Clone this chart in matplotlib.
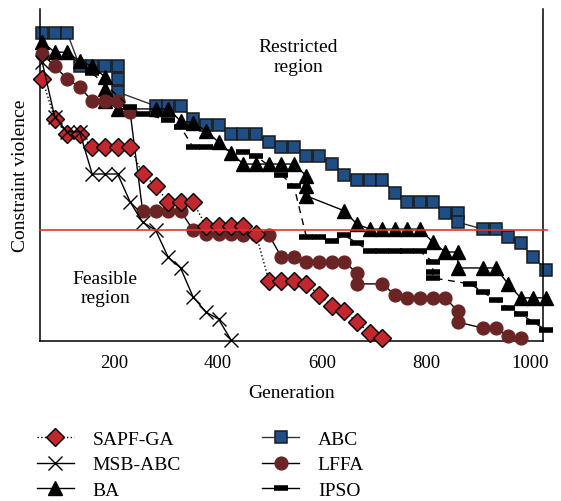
import matplotlib
matplotlib.use("Agg")
import matplotlib.pyplot as plt
from matplotlib.lines import Line2D

plt.rcParams["font.family"] = ["Liberation Serif", "DejaVu Serif"]

# generation of each sample, violation in arbitrary units (0..100)
ABC_GEN = [62, 86, 110, 134, 158, 183, 207, 207, 207, 280, 304, 328, 352, 377,
           401, 425, 449, 473, 498, 522, 546, 570, 595, 619, 643, 667, 692,
           716, 740, 764, 788, 813, 837, 861, 861, 909, 934, 958, 982, 1006, 1031]
ABC_VAL = [92.8, 92.8, 92.8, 82.8, 82.8, 82.8, 82.8, 78.9, 75.0, 70.8, 70.8,
           70.8, 66.9, 65.1, 65.1, 62.3, 62.3, 62.3, 59.9, 58.4, 58.4, 55.7,
           55.7, 53.3, 50.0, 48.5, 48.5, 48.5, 44.6, 41.9, 41.9, 41.9, 38.6,
           38.6, 35.8, 33.7, 33.7, 31.3, 29.5, 25.3, 21.4]

BA_GEN = [62, 86, 110, 134, 158, 183, 183, 183, 207, 280, 304, 328, 352, 377,
          401, 425, 449, 473, 498, 522, 546, 570, 570, 570, 643, 667, 692, 716,
          740, 764, 788, 813, 837, 861, 861, 909, 934, 958, 982, 1006, 1031]
BA_VAL = [90.1, 87.0, 87.0, 84.3, 82.8, 79.5, 75.9, 72.3, 69.9, 69.9, 69.9,
          66.3, 65.7, 63.3, 59.9, 56.6, 53.3, 53.3, 53.3, 53.3, 53.3, 49.7,
          46.7, 43.7, 39.2, 35.2, 33.7, 33.7, 33.7, 33.7, 33.7, 29.8, 26.8,
          26.8, 22.0, 22.0, 22.0, 17.2, 13.0, 13.0, 13.0]

LFFA_GEN = [62, 86, 110, 134, 158, 183, 207, 231, 255, 280, 304, 328, 352,
            377, 401, 425, 449, 473, 498, 522, 546, 570, 595, 619, 643, 667,
            667, 716, 740, 764, 788, 813, 837, 861, 861, 909, 934, 958, 982]
LFFA_VAL = [86.4, 82.8, 78.9, 76.5, 72.3, 72.3, 72.3, 69.0, 39.2, 39.2, 39.2,
            39.2, 33.4, 32.2, 32.2, 32.2, 31.9, 31.9, 31.9, 25.3, 25.3, 23.8,
            23.8, 23.8, 23.8, 20.5, 17.2, 17.2, 13.9, 13.0, 13.0, 13.0, 13.0,
            9.0, 5.7, 3.9, 3.9, 1.5, 0.9]

IPSO_GEN = [158, 231, 255, 304, 328, 352, 377, 449, 473, 522, 546, 570, 595,
            619, 643, 667, 692, 716, 740, 764, 788, 813, 813, 813, 885, 909,
            934, 958, 982, 1006, 1031]
IPSO_VAL = [80.7, 70.5, 68.4, 66.6, 64.5, 58.4, 58.4, 56.9, 55.7, 50.0, 46.7,
            31.3, 31.3, 30.1, 31.9, 29.5, 27.1, 27.1, 27.1, 27.1, 27.1, 23.8,
            20.8, 19.0, 17.2, 14.8, 12.3, 9.9, 8.1, 5.7, 3.3]

SAPF_GEN = [62, 86, 110, 134, 158, 183, 207, 231, 255, 280, 304, 328, 352,
            377, 401, 425, 449, 473, 498, 522, 546, 570, 595, 619, 643, 667,
            692, 716]
SAPF_VAL = [78.9, 66.9, 62.3, 62.3, 58.4, 58.4, 58.4, 58.4, 50.3, 46.7, 41.9,
            41.9, 41.9, 34.6, 34.6, 34.6, 34.6, 32.2, 18.1, 18.1, 18.1, 17.2,
            13.9, 10.5, 9.0, 5.7, 2.4, 0.9]

MSB_GEN = [62, 86, 110, 134, 158, 183, 207, 231, 255, 280, 304, 328, 352, 377,
           401, 425]
MSB_VAL = [84.0, 67.5, 63.0, 63.0, 50.3, 50.3, 50.3, 41.9, 35.8, 33.4, 25.3,
           22.0, 13.3, 8.7, 6.6, 0.3]

FEASIBLE_LIMIT = 33.4
X_TICKS = [200, 400, 600, 800, 1000]

fig = plt.figure(figsize=(5.61, 5.02), dpi=100)
ax = fig.add_axes([40 / 561, 160 / 502, 503 / 561, 332 / 502])

ax.plot(ABC_GEN, ABC_VAL, color="#333333", lw=1.0, marker="s", ms=8.8,
        mfc="#1f4e85", mec="#1a1a1a", mew=1.1, zorder=2, clip_on=False,
        label="ABC")
ax.plot(BA_GEN, BA_VAL, color="black", lw=1.0, marker="^", ms=9.5,
        mfc="black", mec="black", zorder=3, clip_on=False, label="BA")
ax.plot(LFFA_GEN, LFFA_VAL, color="black", lw=1.0, marker="o", ms=9.2,
        mfc="#6b2424", mec="#6b2424", zorder=3, clip_on=False, label="LFFA")
ax.plot(IPSO_GEN, IPSO_VAL, color="black", lw=1.0, ls=(0, (5, 4)),
        marker="_", ms=10, mew=4, mec="black", zorder=3, clip_on=False,
        label="IPSO")
ax.plot(SAPF_GEN, SAPF_VAL, color="black", lw=1.0, ls=":", marker="D",
        ms=9.0, mfc="#c1272d", mec="black", mew=1.0, zorder=4,
        clip_on=False, label="SAPF-GA")
ax.plot(MSB_GEN, MSB_VAL, color="black", lw=1.0, marker="x", ms=9.5,
        mew=1.0, zorder=4, clip_on=False, label="MSB-ABC")

ax.axhline(FEASIBLE_LIMIT, xmin=0, xmax=1.008, color="#e8302e", lw=1.2,
           zorder=5, clip_on=False)

ax.text(554, 85.7, "Restricted\nregion", ha="center", va="center",
        fontsize=14, linespacing=1.3)
ax.text(183, 16.0, "Feasible\nregion", ha="center", va="center",
        fontsize=14, linespacing=1.2)

ax.set_xlim(57.7, 1025)
ax.set_ylim(0, 100)
ax.set_xticks(X_TICKS)
ax.set_yticks([])
ax.tick_params(axis="x", length=0, labelsize=13.5, pad=9)
ax.spines["top"].set_visible(False)
for s in ("left", "right", "bottom"):
    ax.spines[s].set_linewidth(1.1)
ax.set_xlabel("Generation", fontsize=14, labelpad=10)
ax.set_ylabel("Constraint violence", fontsize=14, labelpad=8)

order = ["SAPF-GA", "MSB-ABC", "BA", "ABC", "LFFA", "IPSO"]
h, l = ax.get_legend_handles_labels()
lookup = dict(zip(l, h))
# legend shows the IPSO key with a plain solid line
lookup["IPSO"] = Line2D([], [], color="black", lw=1.0, marker="_", ms=10,
                        mew=4, mec="black")
fig.legend([lookup[k] for k in order], order, loc="upper left",
           bbox_to_anchor=(37 / 561, 1 - 431 / 502), ncol=2, frameon=False,
           fontsize=14, handlelength=1.9, handletextpad=0.95,
           columnspacing=4.2, labelspacing=0.42, borderpad=0,
           borderaxespad=0)

fig.savefig("out.png", dpi=100)
